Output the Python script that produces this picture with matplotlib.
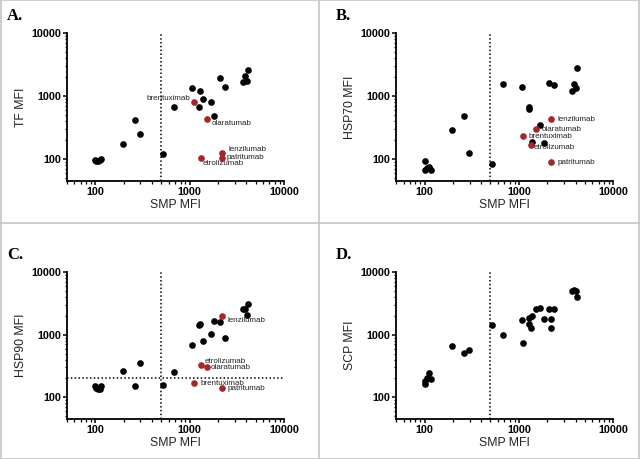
import numpy as np
import matplotlib
matplotlib.use('Agg')
import matplotlib.pyplot as plt
from matplotlib import ticker
from matplotlib.lines import Line2D

plt.rcParams['font.family'] = ['Liberation Sans', 'DejaVu Sans']

# SMP MFI of the control samples (x axis, shared by all panels)
smp = [100, 101, 107, 112, 116, 195, 265, 298, 517, 675, 1070, 1291, 1270,
       1377, 1665, 1830, 2110, 2370, 3660, 3830, 4020, 4150]
tf = [98, 92, 95, 97, 101, 173, 421, 246, 120, 661, 1356, 1185, 677,
      896, 793, 476, 1905, 1406, 1648, 2051, 1709, 2553]
hsp70 = [92, 67, 72, 74, 67, 289, 487, 126, 84, 1570, 1406, 669, 622,
         188, 351, 180, 1630, 1514, 1199, 1549, 1325, 2748]
hsp90 = [149, 140, 137, 136, 150, 263, 150, 347, 155, 249, 693, 1459, 1440,
         804, 1012, 1667, 1588, 875, 2553, 2600, 2051, 3069]
scp = [163, 184, 200, 240, 197, 653, 518, 571, 1406, 988, 1690, 1496, 1862,
       1977, 2619, 1795, 2553, 2553, 5058, 5100, 4900, 4055]

# therapeutic antibodies (red points)
antibodies = ['brentuximab', 'olaratumab', 'lenzilumab', 'patritumab', 'etrolizumab']
ab_smp = [1120, 1515, 2220, 2200, 1334]
ab_tf = [804, 437, 123, 105, 105]
ab_hsp70 = [232, 296, 431, 90, 165]
ab_hsp90 = [169, 299, 1977, 139, 330]
ab_scp = [747, 2524, 1795, 1276, 1290]

red = '#a3282b'

# label offsets (points) and alignment per panel
offs_a = {'brentuximab': (-2.5, 2.5, 'right'), 'olaratumab': (3.5, -3.5, 'left'),
          'lenzilumab': (4.5, 2.6, 'left'), 'patritumab': (3.5, 0, 'left'),
          'etrolizumab': (1, -4.0, 'left')}
offs_b = {'brentuximab': (3.5, 0, 'left'), 'olaratumab': (4, 0, 'left'),
          'lenzilumab': (4.3, 0, 'left'), 'patritumab': (4.3, 0, 'left'),
          'etrolizumab': (2.5, -1.8, 'left')}
offs_c = {'brentuximab': (4.3, 0, 'left'), 'olaratumab': (3, 0, 'left'),
          'lenzilumab': (3.5, -3.5, 'left'), 'patritumab': (4.3, 0, 'left'),
          'etrolizumab': (2, 2.5, 'left')}

fig = plt.figure(figsize=(6.4, 4.59), dpi=100)

boxes = {'A': [0.1047, 0.6057, 0.339, 0.3223],
         'B': [0.619, 0.6057, 0.339, 0.3223],
         'C': [0.1047, 0.0871, 0.339, 0.3203],
         'D': [0.619, 0.0871, 0.339, 0.3203]}

panels = [('A', 'TF MFI', tf, ab_tf, offs_a),
          ('B', 'HSP70 MFI', hsp70, ab_hsp70, offs_b),
          ('C', 'HSP90 MFI', hsp90, ab_hsp90, offs_c),
          ('D', 'SCP MFI', scp, ab_scp, None)]

for name, ylab, ys, ab_ys, offs in panels:
    ax = fig.add_axes(boxes[name])
    ax.set_xscale('log')
    ax.set_yscale('log')
    ax.set_xlim(50, 10000)
    ax.set_ylim(45, 10000)

    ax.axvline(500, color='black', ls=(0, (1, 1.5)), lw=1.1, zorder=1)
    if name == 'C':
        ax.axhline(200, color='black', ls=(0, (1, 1.5)), lw=1.1, zorder=1)

    ax.plot(smp, ys, 'o', color='black', ms=4.8, mew=0, zorder=3)
    if offs is None:
        ax.plot(ab_smp, ab_ys, 'o', color='black', ms=4.8, mew=0, zorder=3)
    else:
        ax.plot(ab_smp, ab_ys, 'o', color=red, ms=4.8, mew=0, zorder=4)
        for lab, x, y in zip(antibodies, ab_smp, ab_ys):
            dx, dy, ha = offs[lab]
            ax.annotate(lab, (x, y), xytext=(dx, dy), textcoords='offset points',
                        ha=ha, va='center', fontsize=5.8, color='#222222', zorder=5)

    for spine in ['top', 'right']:
        ax.spines[spine].set_visible(False)
    for spine in ['left', 'bottom']:
        ax.spines[spine].set_linewidth(1.3)

    for axis in [ax.xaxis, ax.yaxis]:
        axis.set_major_locator(ticker.FixedLocator([100, 1000, 10000]))
        axis.set_major_formatter(ticker.FixedFormatter(['100', '1000', '10000']))
        axis.set_minor_locator(ticker.LogLocator(base=10, subs=np.arange(2, 10)))
        axis.set_minor_formatter(ticker.NullFormatter())
    ax.tick_params(which='major', length=3, width=1.1, pad=1.5, labelsize=7.8)
    ax.tick_params(which='minor', length=1.8, width=0.9)
    for t in ax.get_xticklabels() + ax.get_yticklabels():
        t.set_fontweight('bold')

    ax.set_xlabel('SMP MFI', fontsize=8.8, labelpad=1.2, color='#222222')
    ax.set_ylabel(ylab, fontsize=8.8, labelpad=3, color='#222222')

    bx = boxes[name]
    fig.text(bx[0] - 0.094, bx[1] + bx[3] + 0.038, name + '.', fontsize=12,
             fontweight='bold', family='Liberation Serif', va='center', ha='left')

# panel frame
grey = '#c4c4c4'
for xs, ys_ in [([0.4984, 0.4984], [0, 1]), ([0, 1], [0.5142, 0.5142]),
                ([0.001, 0.001], [0, 1]), ([0.999, 0.999], [0, 1]),
                ([0, 1], [0.999, 0.999]), ([0, 1], [0.001, 0.001])]:
    fig.add_artist(Line2D(xs, ys_, color=grey, lw=1.2, transform=fig.transFigure))

fig.savefig('out.png', dpi=100)
